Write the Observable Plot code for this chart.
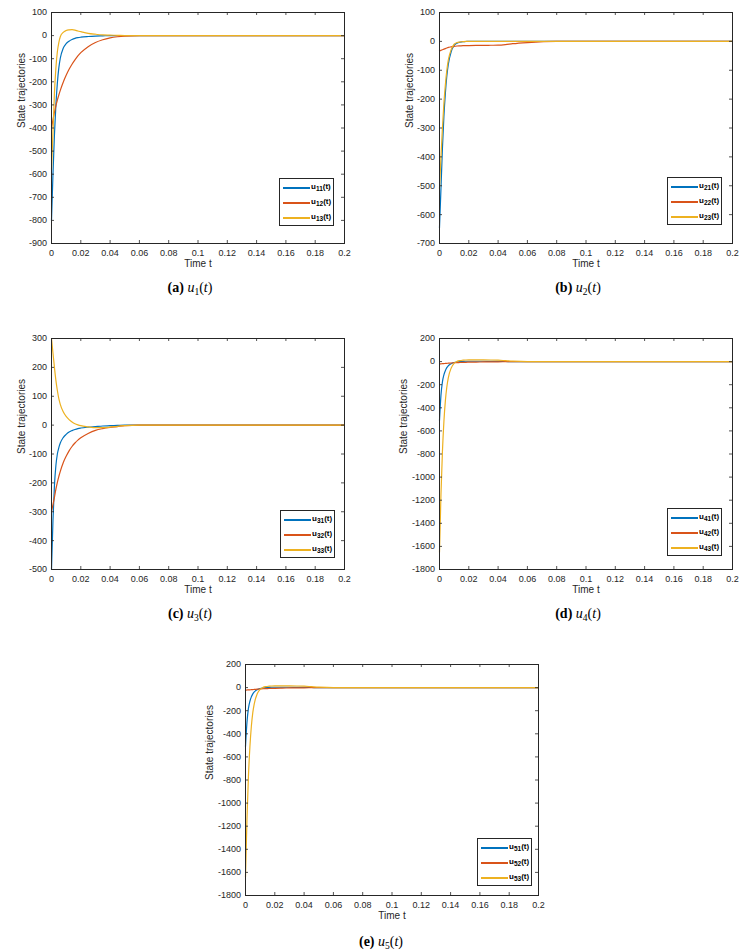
<!DOCTYPE html>
<html><head><meta charset="utf-8">
<script src="https://cdn.jsdelivr.net/npm/d3@7"></script>
<script src="https://cdn.jsdelivr.net/npm/@observablehq/plot@0.6"></script>
<style>
body{margin:0;background:#fff;}
#page{position:relative;width:755px;height:952px;overflow:hidden;font-family:"Liberation Sans",Arial,sans-serif;}
.panel{position:absolute;}
.legend{position:absolute;width:55px;height:48px;box-sizing:border-box;border:1px solid #262626;background:#fff;}
.legend .row{position:absolute;left:0;right:0;height:0;}
.legend .swatch{position:absolute;left:3px;width:27px;height:1.3px;top:-0.6px;}
.legend .lab{position:absolute;left:31px;top:-6px;font:bold 8px "Liberation Sans",Arial,sans-serif;color:#000;white-space:nowrap;line-height:10px;}
.legend .lab sub{font-size:6.5px;vertical-align:-2px;line-height:0;}
.cap{position:absolute;width:160px;text-align:center;font:14px "Liberation Serif","Times New Roman",serif;color:#000;line-height:16px;}
.cap sub{font-size:9.5px;vertical-align:-3px;line-height:0;}
</style></head>
<body><div id="page"></div>
<script>
// time samples (s)
const T = [0,0.001,0.002,0.003,0.004,0.005,0.006,0.008,0.010,0.012,0.014,0.016,0.018,0.020,0.025,0.030,0.035,0.040,0.045,0.050,0.060,0.080,0.100,0.150,0.200];

// panel (a)
const u11 = [-800,-600,-430,-300,-205,-140,-98,-55,-35,-24,-17,-12,-9,-7,-4,-2,-1,0,0,0,0,0,0,0,0];
const u12 = [-400,-365,-332,-304,-279,-257,-237,-202,-172,-146,-124,-105,-88,-74,-48,-30,-18,-10,-5,-2,0,0,0,0,0];
const u13 = [-580,-420,-250,-140,-70,-30,-5,14,22,25,26,24,20,17,10,6,3,2,1,0,0,0,0,0,0];
// panel (b)
const u21 = [-645,-510,-370,-260,-180,-120,-80,-35,-14,-6,-3,-1,-0.5,0,0,0,0,0,0,0,0,0,0,0,0];
const u22 = [-33,-31,-29,-27,-25,-23,-21,-19,-17,-16,-15.5,-15,-15,-14.5,-14,-14,-13.5,-13,-11,-8,-4,0,0,0,0];
const u23 = [-510,-400,-300,-215,-150,-100,-65,-28,-10,-4,-2,-1,0,0,0,0,0,0,0,0,0,0,0,0,0];
// panel (c)
const u31 = [-500,-330,-210,-140,-100,-78,-62,-43,-32,-24,-19,-15,-12,-10,-7,-5,-3,-2,-1,0,0,0,0,0,0];
const u32 = [-300,-275,-250,-222,-198,-178,-160,-130,-108,-89,-74,-62,-52,-44,-29,-18,-12,-8,-5,-2,0,0,0,0,0];
const u33 = [300,250,200,155,120,92,72,46,30,19,11,5,1,-2,-6,-9,-9,-7,-4,-2,0,0,0,0,0];
// panel (d)
const u41 = [-510,-290,-175,-115,-78,-52,-36,-18,-8,-3,0,2,3,3,3,3,2,2,1,0,0,0,0,0,0];
const u42 = [-20,-19,-18,-17,-16,-15,-14,-12,-10,-9,-8,-7,-6,-5,-4,-3,-2,-2,-1,0,0,0,0,0,0];
const u43 = [-1650,-1150,-780,-520,-340,-220,-140,-55,-15,2,9,12,14,15,15,15,14,12,8,4,0,0,0,0,0];
// panel (e)
const u51 = [-510,-300,-180,-118,-80,-54,-37,-18,-8,-3,0,2,3,3,3,3,2,2,1,0,0,0,0,0,0];
const u52 = [-22,-21,-20,-19,-18,-17,-16,-14,-12,-10,-9,-8,-7,-6,-4,-3,-2,-2,-1,0,0,0,0,0,0];
const u53 = [-1640,-1140,-770,-515,-335,-215,-138,-54,-15,2,9,12,14,15,15,15,14,12,8,4,0,0,0,0,0];

// ticks
const xTicks = [0,0.02,0.04,0.06,0.08,0.1,0.12,0.14,0.16,0.18,0.2];
const yTicksA = [100,0,-100,-200,-300,-400,-500,-600,-700,-800,-900];
const yTicksB = [100,0,-100,-200,-300,-400,-500,-600,-700];
const yTicksC = [300,200,100,0,-100,-200,-300,-400,-500];
const yTicksD = [200,0,-200,-400,-600,-800,-1000,-1200,-1400,-1600,-1800];
const yTicksE = [200,0,-200,-400,-600,-800,-1000,-1200,-1400,-1600,-1800];

const COLORS = ["#0072BD","#D95319","#EDB120"];
const AX = "#262626";
const W = 360, H = 276, ML = 51, MR = 16, MT = 12, MB = 33;
const FW = W - ML - MR, FH = H - MT - MB;
const fmt = d => String(d);

const panels = [
  {tag:"a", n:"1", left:0,   top:0,   dom:[-900,100],  ticks:yTicksA, series:[u11,u12,u13], lab:["11","12","13"], leg:[279,178], cap:[190,288], ldx:-30},
  {tag:"b", n:"2", left:388, top:0,   dom:[-700,100],  ticks:yTicksB, series:[u21,u22,u23], lab:["21","22","23"], leg:[667,177], cap:[578,288], ldx:-30},
  {tag:"c", n:"3", left:0,   top:326, dom:[-500,300],  ticks:yTicksC, series:[u31,u32,u33], lab:["31","32","33"], leg:[280,510], cap:[190,614], ldx:-30},
  {tag:"d", n:"4", left:388, top:326, dom:[-1800,200], ticks:yTicksD, series:[u41,u42,u43], lab:["41","42","43"], leg:[667,508], cap:[578,614], ldx:-36},
  {tag:"e", n:"5", left:194, top:652, dom:[-1800,200], ticks:yTicksE, series:[u51,u52,u53], lab:["51","52","53"], leg:[477,838], cap:[381,942], ldx:-36}
];

const page = document.getElementById("page");

for (const p of panels) {
  const chart = Plot.plot({
    width: W, height: H,
    marginLeft: ML, marginRight: MR, marginTop: MT, marginBottom: MB,
    x: {domain: [0, 0.2]},
    y: {domain: p.dom},
    style: {fontFamily: '"Liberation Sans", Arial, sans-serif', fontSize: "9px", color: AX, background: "transparent", overflow: "visible"},
    marks: [
      ...p.series.map((s, i) => Plot.line(s, {x: (d, j) => T[j], y: d => d, stroke: COLORS[i], strokeWidth: 1.2, curve: "monotone-x"})),
      Plot.tickX(xTicks, {x: d => d, insetTop: FH - 3, stroke: AX, strokeWidth: 0.8}),
      Plot.tickX(xTicks, {x: d => d, insetBottom: FH - 3, stroke: AX, strokeWidth: 0.8}),
      Plot.tickY(p.ticks, {y: d => d, insetRight: FW - 3, stroke: AX, strokeWidth: 0.8}),
      Plot.tickY(p.ticks, {y: d => d, insetLeft: FW - 3, stroke: AX, strokeWidth: 0.8}),
      Plot.frame({stroke: AX, strokeWidth: 1}),
      Plot.axisX({ticks: xTicks, tickSize: 0, tickPadding: 6, tickFormat: fmt, label: null}),
      Plot.axisY({ticks: p.ticks, tickSize: 0, tickPadding: 4.5, tickFormat: fmt, label: null}),
      Plot.text(["State trajectories"], {frameAnchor: "left", dx: p.ldx, rotate: -90, fontSize: 10}),
      Plot.text(["Time t"], {frameAnchor: "bottom", dy: 23.5, fontSize: 10})
    ]
  });
  const wrap = document.createElement("div");
  wrap.className = "panel";
  wrap.style.left = p.left + "px";
  wrap.style.top = p.top + "px";
  wrap.appendChild(chart);
  page.appendChild(wrap);

  // legend
  const lg = document.createElement("div");
  lg.className = "legend";
  lg.style.left = p.leg[0] + "px";
  lg.style.top = p.leg[1] + "px";
  [9, 24, 39].forEach((ry, i) => {
    const row = document.createElement("div");
    row.className = "row";
    row.style.top = ry + "px";
    row.innerHTML = `<div class="swatch" style="background:${COLORS[i]}"></div><div class="lab">u<sub>${p.lab[i]}</sub>(t)</div>`;
    lg.appendChild(row);
  });
  page.appendChild(lg);

  // caption
  const cap = document.createElement("div");
  cap.className = "cap";
  cap.style.left = (p.cap[0] - 80) + "px";
  cap.style.top = (p.cap[1] - 8) + "px";
  cap.innerHTML = `<b>(${p.tag})</b> <i>u</i><sub>${p.n}</sub>(<i>t</i>)`;
  page.appendChild(cap);
}
</script>
</body></html>
